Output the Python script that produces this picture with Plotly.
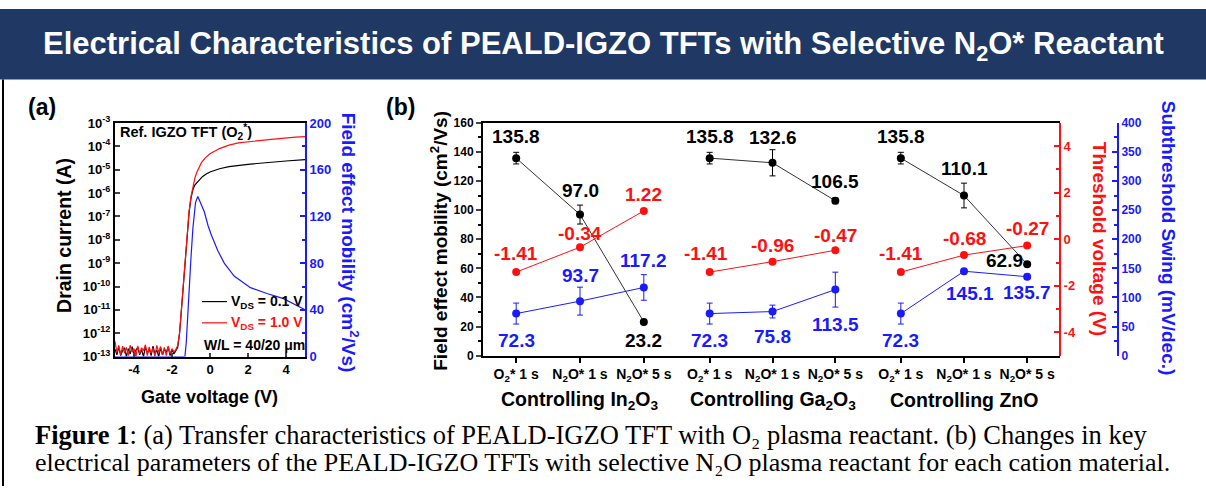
import plotly.graph_objects as go

W, H = 1206, 494


def px(x):
    return x / W


def py(y):
    return 1 - y / H


# ---------------- panel (a) data ----------------
vg_noise = [-5.0, -4.9, -4.8, -4.7, -4.6, -4.5, -4.4, -4.3, -4.2, -4.1, -4.0,
            -3.9, -3.8, -3.7, -3.6, -3.5, -3.4, -3.3, -3.2, -3.1, -3.0, -2.9,
            -2.8, -2.7, -2.6, -2.5, -2.4, -2.3, -2.2, -2.1, -2.0, -1.9, -1.8]
id_black_noise = [2.1e-13, 1.2e-13, 2.6e-13, 1.1e-13, 1.8e-13, 2.4e-13, 1.0e-13, 2.2e-13,
                  1.3e-13, 2.7e-13, 1.1e-13, 1.9e-13, 2.5e-13, 1.2e-13, 2.0e-13, 1.0e-13,
                  2.6e-13, 1.4e-13, 2.2e-13, 1.1e-13, 2.8e-13, 1.3e-13, 1.9e-13, 1.0e-13,
                  2.4e-13, 1.2e-13, 2.1e-13, 1.5e-13, 2.6e-13, 1.1e-13, 2.0e-13, 1.3e-13, 1.8e-13]
id_red_noise = [4.5e-13, 1.5e-13, 3.0e-13, 1.2e-13, 2.8e-13, 1.4e-13, 2.5e-13, 1.1e-13,
                3.1e-13, 1.6e-13, 2.2e-13, 1.0e-13, 2.9e-13, 1.3e-13, 2.4e-13, 1.8e-13,
                3.2e-13, 1.1e-13, 2.6e-13, 1.4e-13, 2.3e-13, 1.0e-13, 3.0e-13, 1.5e-13,
                2.7e-13, 1.2e-13, 2.5e-13, 1.1e-13, 2.9e-13, 1.3e-13, 2.2e-13, 1.6e-13, 2.0e-13]

vg_on_black = [-1.7, -1.6, -1.5, -1.4, -1.3, -1.2, -1.1, -1.0, -0.9, -0.8, -0.6, -0.4,
               -0.2, 0.0, 0.5, 1.0, 2.0, 3.0, 4.0, 5.0]
id_black_on = [2.5e-13, 1.0e-12, 1.2e-11, 1.3e-10, 1.5e-9, 1.6e-8, 1.5e-7, 6.0e-7, 1.4e-6,
               2.2e-6, 3.5e-6, 5.0e-6, 6.5e-6, 8.0e-6, 1.1e-5, 1.35e-5, 1.7e-5, 2.05e-5,
               2.35e-5, 2.7e-5]

vg_on_red = [-1.7, -1.6, -1.5, -1.4, -1.3, -1.2, -1.1, -1.0, -0.9, -0.8, -0.7, -0.6, -0.45,
             -0.25, 0.0, 0.5, 1.0, 1.5, 2.5, 3.5, 4.5, 5.0]
id_red_on = [3.0e-13, 1.1e-12, 1.3e-11, 1.4e-10, 1.6e-9, 1.7e-8, 1.7e-7, 7.0e-7, 1.9e-6,
             4.2e-6, 7.5e-6, 1.15e-5, 2.0e-5, 3.2e-5, 4.8e-5, 8.0e-5, 1.12e-4, 1.4e-4,
             1.75e-4, 2.1e-4, 2.45e-4, 2.6e-4]

vg_mu = [-5.0, -1.32, -1.25, -1.13, -1.0, -0.9, -0.76, -0.64, -0.5, -0.3, -0.1, 0.05,
         0.4, 0.75, 1.27, 2.13, 3.0, 3.87, 4.9, 5.0]
mu_fe = [0, 0, 12, 50, 85, 110, 132, 137, 132, 124, 112, 105, 91, 80, 69, 59, 54, 49.6, 41, 40]

log_ticks = [1e-13, 1e-12, 1e-11, 1e-10, 1e-9, 1e-8, 1e-7, 1e-6, 1e-5, 1e-4, 1e-3]
log_tick_text = ["10<sup>-13</sup>", "10<sup>-12</sup>", "10<sup>-11</sup>", "10<sup>-10</sup>",
                 "10<sup>-9</sup>", "10<sup>-8</sup>", "10<sup>-7</sup>", "10<sup>-6</sup>",
                 "10<sup>-5</sup>", "10<sup>-4</sup>", "10<sup>-3</sup>"]
vg_ticks = [-4, -2, 0, 2, 4]
vg_tick_text = ["-4", "-2", "0", "2", "4"]

# ---------------- panel (b) data ----------------
categories = ["O<sub>2</sub>* 1 s", "N<sub>2</sub>O* 1 s", "N<sub>2</sub>O* 5 s"]
groups = ["Controlling In<sub>2</sub>O<sub>3</sub>", "Controlling Ga<sub>2</sub>O<sub>3</sub>",
          "Controlling ZnO"]

mobility_in = [135.8, 97.0, 23.2]
mobility_ga = [135.8, 132.6, 106.5]
mobility_zn = [135.8, 110.1, 62.9]
mobility_err_in = [4.0, 6.5, 0.8]
mobility_err_ga = [4.0, 9.0, 2.0]
mobility_err_zn = [4.0, 8.5, 1.0]

vth_in = [-1.41, -0.34, 1.22]
vth_ga = [-1.41, -0.96, -0.47]
vth_zn = [-1.41, -0.68, -0.27]

ss_in = [72.3, 93.7, 117.2]
ss_ga = [72.3, 75.8, 113.5]
ss_zn = [72.3, 145.1, 135.7]
ss_err_in = [18, 24, 22]
ss_err_ga = [18, 11, 30]
ss_err_zn = [18, 4, 4]

vth_ticks = [-4, -2, 0, 2, 4]
vth_tick_text = ["-4", "-2", "0", "2", "4"]

# label offsets (pixels) -- styling only
mob_shift = [[(0, 22), (0, 24), (0, -19)], [(0, 22), (0, 25), (0, 19)], [(0, 22), (0, 27), (-23, 4)]]
vth_shift = [[(0, 19), (0, 14), (0, 16)], [(-4, 19), (0, 16), (0, 15)], [(0, 19), (0, 17), (0, 17)]]
ss_shift = [[(0, -27), (0, 26), (0, 27)], [(0, -27), (0, -25), (0, -35)], [(0, -27), (6, -22), (0, -16)]]

RED = "#ff1010"
BLUE = "#1a1aff"
NAVY = "#1f3864"
FONT = "Liberation Sans, Arial, sans-serif"
SERIF = "Liberation Serif, Times New Roman, serif"

fig = go.Figure()

# ---- panel (a) traces ----
fig.add_trace(go.Scatter(x=vg_noise + vg_on_black, y=id_black_noise + id_black_on,
                         xaxis="x4", yaxis="y6", mode="lines",
                         line=dict(color="black", width=1.2)))
fig.add_trace(go.Scatter(x=vg_noise + vg_on_red, y=id_red_noise + id_red_on,
                         xaxis="x4", yaxis="y6", mode="lines",
                         line=dict(color=RED, width=1.2)))
fig.add_trace(go.Scatter(x=vg_mu, y=mu_fe, xaxis="x4", yaxis="y7", mode="lines",
                         line=dict(color=BLUE, width=1.2)))

# ---- panel (b) traces ----
mob = [mobility_in, mobility_ga, mobility_zn]
mob_err = [mobility_err_in, mobility_err_ga, mobility_err_zn]
vth = [vth_in, vth_ga, vth_zn]
ss = [ss_in, ss_ga, ss_zn]
ss_err = [ss_err_in, ss_err_ga, ss_err_zn]
xaxes = ["x", "x2", "x3"]

LBL = 19
annotations = []
for g in range(3):
    xa = xaxes[g]
    fig.add_trace(go.Scatter(x=categories, y=vth[g], xaxis=xa, yaxis="y2",
                             mode="lines+markers", line=dict(color=RED, width=1),
                             marker=dict(color=RED, size=8)))
    fig.add_trace(go.Scatter(x=categories, y=ss[g], xaxis=xa, yaxis="y3",
                             mode="lines+markers", line=dict(color=BLUE, width=1),
                             marker=dict(color=BLUE, size=8),
                             error_y=dict(type="data", array=ss_err[g], color=BLUE,
                                          thickness=1, width=3)))
    fig.add_trace(go.Scatter(x=categories, y=mob[g], xaxis=xa, yaxis="y",
                             mode="lines+markers", line=dict(color="#333333", width=1),
                             marker=dict(color="black", size=8),
                             error_y=dict(type="data", array=mob_err[g], color="black",
                                          thickness=1, width=3)))
    for i in range(3):
        annotations.append(dict(x=categories[i], y=mob[g][i], xref=xa, yref="y",
                                text=f"{mob[g][i]:.1f}", showarrow=False,
                                xanchor="center", yanchor="middle",
                                xshift=mob_shift[g][i][0], yshift=mob_shift[g][i][1],
                                font=dict(size=LBL, color="black", weight="bold")))
        annotations.append(dict(x=categories[i], y=vth[g][i], xref=xa, yref="y2",
                                text=f"{vth[g][i]:.2f}", showarrow=False,
                                xanchor="center", yanchor="middle",
                                xshift=vth_shift[g][i][0], yshift=vth_shift[g][i][1],
                                font=dict(size=LBL, color=RED, weight="bold")))
        annotations.append(dict(x=categories[i], y=ss[g][i], xref=xa, yref="y3",
                                text=f"{ss[g][i]:.1f}", showarrow=False,
                                xanchor="center", yanchor="middle",
                                xshift=ss_shift[g][i][0], yshift=ss_shift[g][i][1],
                                font=dict(size=LBL, color=BLUE, weight="bold")))
    annotations.append(dict(x=categories[1], y=py(405), xref=xa, yref="paper",
                            text=groups[g], showarrow=False, xanchor="center", yanchor="middle",
                            font=dict(size=19.5, color="black", weight="bold")))


def note(x, y, text, size=19, color="black", anchor="center", angle=0, family=FONT, bold=True):
    return dict(x=px(x), y=py(y), xref="paper", yref="paper", text=text, showarrow=False,
                xanchor=anchor, yanchor="middle", textangle=angle,
                font=dict(family=family, size=size, color=color,
                          weight="bold" if bold else "normal"))


annotations += [
    note(603, 38, "Electrical Characteristics of PEALD-IGZO TFTs with Selective N<sub>2</sub>O* Reactant",
         size=31, color="white"),
    note(26, 101, "(a)", size=23, anchor="left"),
    note(384, 101, "(b)", size=23, anchor="left"),
    note(64, 235, "Drain current (A)", size=19.5, angle=-90),
    note(350, 242, "Field effect mobility (cm<sup>2</sup>/Vs)", color=BLUE, angle=90),
    note(209, 402, "Gate voltage (V)", size=18),
    note(118, 127, "Ref. IGZO TFT (O<sub>2</sub><sup>*</sup>)", size=14.5, anchor="left"),
    note(229, 303, "V<sub>DS</sub> = 0.1 V", size=14, anchor="left"),
    note(229, 325, "V<sub>DS</sub> = 1.0 V", size=14, color=RED, anchor="left"),
    note(202, 348, "W/L = 40/20 μm", size=14, anchor="left"),
    note(439, 240, "Field effect mobility (cm<sup>2</sup>/Vs)", angle=-90),
    note(1099, 238, "Threshold voltage (V)", color=RED, angle=90),
    note(1168, 237, "Subthreshold Swing (mV/dec.)", color=BLUE, angle=90),
    note(33, 441, "<b>Figure 1</b>: (a) Transfer characteristics of PEALD-IGZO TFT with O₂ plasma reactant. (b) Changes in key",
         size=26.5, anchor="left", family=SERIF, bold=False),
    note(33, 470, "electrical parameters of the PEALD-IGZO TFTs with selective N₂O plasma reactant for each cation material.",
         size=26, anchor="left", family=SERIF, bold=False),
]

shapes = [
    dict(type="rect", xref="paper", yref="paper", x0=0, x1=1, y0=py(73), y1=1,
         fillcolor=NAVY, line=dict(width=0), layer="below"),
    dict(type="line", xref="paper", yref="paper", x0=px(3), x1=px(3), y0=0, y1=py(73),
         line=dict(color="black", width=2)),
    dict(type="line", xref="paper", yref="paper", x0=px(202), x1=px(227), y0=py(303), y1=py(303),
         line=dict(color="black", width=1.2)),
    dict(type="line", xref="paper", yref="paper", x0=px(202), x1=px(227), y0=py(325), y1=py(325),
         line=dict(color=RED, width=1.2)),
]

bold12 = dict(size=12, weight="bold", family=FONT)
bold13 = dict(size=13, weight="bold", family=FONT)
ydom_b = [py(359), py(118)]
ydom_a = [py(360), py(118)]

xcat = dict(type="category", range=[-0.52, 2.52], showline=True, linecolor="black", linewidth=2,
            mirror=True, ticks="outside", ticklen=5, tickwidth=1.5, tickcolor="black",
            tickfont=dict(size=14, weight="bold", family=FONT), showgrid=False, zeroline=False,
            anchor="y", fixedrange=True)

divider = dict(overlaying="y", anchor="free", side="left", range=[-5, 5], showline=True,
               linecolor=RED, linewidth=2, ticks="outside", ticklen=4, tickcolor=RED, tickwidth=1.5,
               dtick=1, showticklabels=False, showgrid=False, zeroline=False)

fig.update_layout(
    width=W, height=H, margin=dict(l=0, r=0, t=0, b=0, pad=0),
    paper_bgcolor="white", plot_bgcolor="rgba(0,0,0,0)", showlegend=False,
    font=dict(family=FONT, color="black"),
    xaxis=dict(xcat, domain=[px(483), px(677)]),
    xaxis2=dict(xcat, domain=[px(677), px(868)]),
    xaxis3=dict(xcat, domain=[px(868), px(1060)]),
    yaxis=dict(domain=ydom_b, anchor="x", range=[0, 160], dtick=20, showline=True,
               linecolor="black", linewidth=2, ticks="outside", ticklen=5, tickwidth=1.5,
               minor=dict(dtick=10, ticks="outside", ticklen=3, tickcolor="black"),
               tickfont=bold12, showgrid=False, zeroline=False),
    yaxis2=dict(overlaying="y", anchor="free", position=px(1060), side="right", range=[-5, 5],
                tickvals=vth_ticks, ticktext=vth_tick_text, showline=True, linecolor=RED,
                linewidth=2, ticks="inside", ticklen=5, tickwidth=1.5, tickcolor=RED,
                minor=dict(dtick=1, ticks="inside", ticklen=3, tickcolor=RED),
                tickfont=dict(bold13, color=RED), showgrid=False, zeroline=False),
    yaxis3=dict(overlaying="y", anchor="free", position=px(1118), side="right", range=[0, 400],
                dtick=50, showline=True, linecolor=BLUE, linewidth=2, ticks="inside", ticklen=5,
                tickwidth=1.5, tickcolor=BLUE,
                minor=dict(dtick=25, ticks="inside", ticklen=3, tickcolor=BLUE),
                tickfont=dict(bold12, color=BLUE), showgrid=False, zeroline=False),
    yaxis4=dict(divider, position=px(677)),
    yaxis5=dict(divider, position=px(868)),
    xaxis4=dict(domain=[px(115), px(305)], anchor="y6", range=[-5, 5], tickvals=vg_ticks,
                ticktext=vg_tick_text, showline=True, linecolor="black", linewidth=2, mirror=True,
                ticks="inside", ticklen=4, tickwidth=1.5, tickfont=bold13, showgrid=False,
                zeroline=False),
    yaxis6=dict(domain=ydom_a, anchor="x4", type="log", range=[-13, -3], tickvals=log_ticks,
                ticktext=log_tick_text, showline=True, linecolor="black", linewidth=2,
                ticks="inside", ticklen=5, tickwidth=1.5, tickfont=bold13, showgrid=False,
                zeroline=False),
    yaxis7=dict(overlaying="y6", anchor="x4", side="right", range=[0, 200], dtick=40,
                showline=True, linecolor=BLUE, linewidth=2, ticks="inside", ticklen=5,
                tickwidth=1.5, tickcolor=BLUE,
                minor=dict(dtick=20, ticks="inside", ticklen=3, tickcolor=BLUE),
                tickfont=dict(bold13, color=BLUE), showgrid=False, zeroline=False),
    annotations=annotations,
    shapes=shapes,
)

fig.write_html("out.html", config={"displayModeBar": False},
               post_script="document.body.style.margin='0';document.body.style.overflow='hidden';")
